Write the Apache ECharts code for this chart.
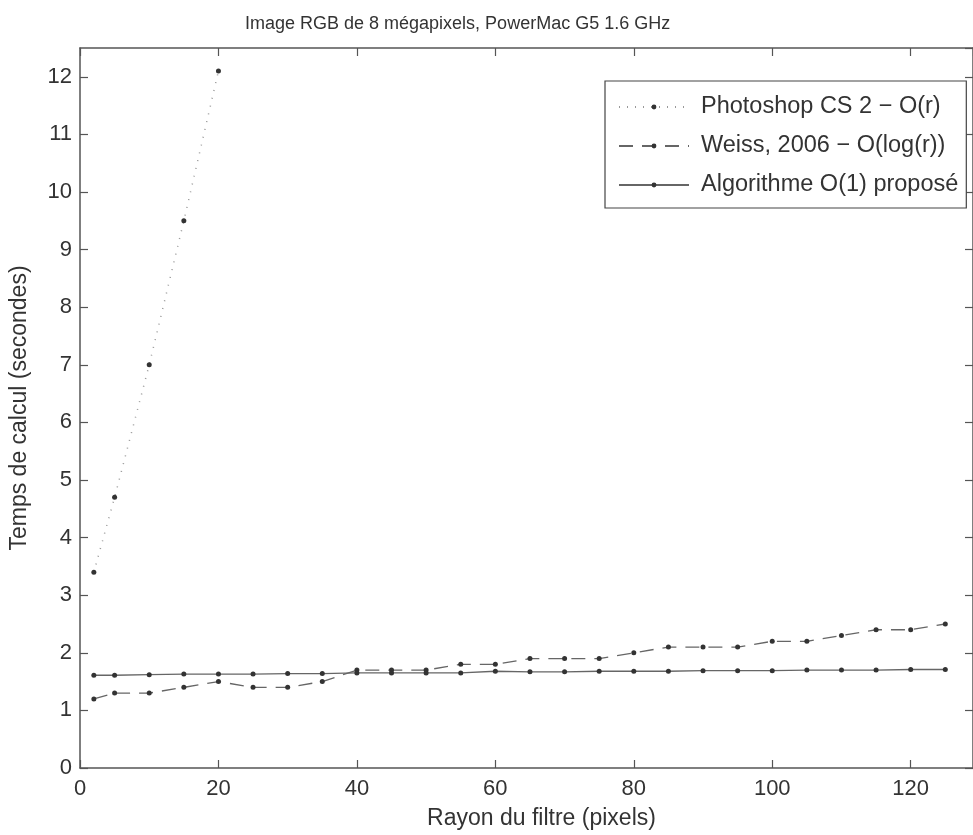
<!DOCTYPE html>
<html><head><meta charset="utf-8">
<script src="https://cdn.jsdelivr.net/npm/echarts@6/dist/echarts.min.js"></script>
<style>html,body{margin:0;padding:0;background:#fff}#c{width:973px;height:835px}</style>
</head><body><div id="c"></div>
<script>
const radiusPS = [2, 5, 10, 15, 20];
const photoshop = [3.4, 4.7, 7.0, 9.5, 12.1];
const radii = [2,5,10,15,20,25,30,35,40,45,50,55,60,65,70,75,80,85,90,95,100,105,110,115,120,125];
const weiss = [1.2,1.3,1.3,1.4,1.5,1.4,1.4,1.5,1.7,1.7,1.7,1.8,1.8,1.9,1.9,1.9,2.0,2.1,2.1,2.1,2.2,2.2,2.3,2.4,2.4,2.5];
const proposed = [1.61,1.61,1.62,1.63,1.63,1.63,1.64,1.64,1.65,1.65,1.65,1.65,1.68,1.67,1.67,1.68,1.68,1.68,1.69,1.69,1.69,1.70,1.70,1.70,1.71,1.71];
const names = ['Photoshop CS 2 \u2212 O(r)', 'Weiss, 2006 \u2212 O(log(r))', 'Algorithme O(1) propos\u00e9'];

const font = 'Liberation Sans, Arial, sans-serif';
const axisCol = '#555';
const txtCol = '#333';

const zip = (xs, ys) => xs.map((x, i) => [x, ys[i]]);

const chart = echarts.init(document.getElementById('c'));
const baseX = {
  type: 'value', min: 0, max: 129, interval: 20,
  axisLine: {show: true, onZero: false, lineStyle: {color: axisCol, width: 1.5}},
  axisTick: {show: true, inside: true, length: 8, lineStyle: {color: axisCol, width: 1.2}},
  splitLine: {show: false}
};
const baseY = {
  type: 'value', min: 0, max: 12.5, interval: 1,
  axisLine: {show: true, onZero: false, lineStyle: {color: axisCol, width: 1.5}},
  axisTick: {show: true, inside: true, length: 8, lineStyle: {color: axisCol, width: 1.2}},
  splitLine: {show: false}
};
chart.setOption({
  backgroundColor: '#fff',
  animation: false,
  textStyle: {fontFamily: font},
  title: {
    text: 'Image RGB de 8 m\u00e9gapixels, PowerMac G5 1.6 GHz',
    left: 240, top: 10,
    textStyle: {fontFamily: font, fontSize: 18, fontWeight: 'normal', color: txtCol}
  },
  grid: {left: 79, right: 0, top: 48, bottom: 65, containLabel: false},
  legend: {
    orient: 'vertical', left: 605, top: 81,
    padding: [14, 8, 11, 13],
    itemWidth: 70, itemHeight: 6, itemGap: 15,
    borderColor: '#444', borderWidth: 1.2,
    backgroundColor: '#fff',
    data: names,
    textStyle: {fontFamily: font, fontSize: 23.5, lineHeight: 24, color: txtCol, padding: [0, 0, 0, 7]}
  },
  xAxis: [
    Object.assign({}, baseX, {
      position: 'bottom',
      name: 'Rayon du filtre (pixels)', nameLocation: 'middle', nameGap: 39,
      nameTextStyle: {fontFamily: font, fontSize: 23, color: txtCol, padding: [0, 0, 0, 30]},
      axisLabel: {fontFamily: font, fontSize: 22, color: txtCol, margin: 10, showMaxLabel: false,
        formatter: v => (v % 20 === 0 ? String(v) : '')}
    }),
    Object.assign({}, baseX, {position: 'top', axisLabel: {show: false}})
  ],
  yAxis: [
    Object.assign({}, baseY, {
      position: 'left',
      name: 'Temps de calcul (secondes)', nameLocation: 'middle', nameGap: 49,
      nameTextStyle: {fontFamily: font, fontSize: 23, color: txtCol},
      axisLabel: {fontFamily: font, fontSize: 22, color: txtCol, margin: 8, showMaxLabel: false,
        formatter: v => (Number.isInteger(v) ? String(v) : '')}
    }),
    Object.assign({}, baseY, {position: 'right', axisLabel: {show: false}})
  ],
  series: [
    {
      name: names[0], type: 'line', data: zip(radiusPS, photoshop),
      symbol: 'circle', symbolSize: 5,
      itemStyle: {color: '#333'},
      lineStyle: {color: '#999', width: 1.5, type: [1, 7]}
    },
    {
      name: names[1], type: 'line', data: zip(radii, weiss),
      symbol: 'circle', symbolSize: 5,
      itemStyle: {color: '#333'},
      lineStyle: {color: '#666', width: 1.3, type: [14, 9]}
    },
    {
      name: names[2], type: 'line', data: zip(radii, proposed),
      symbol: 'circle', symbolSize: 5,
      itemStyle: {color: '#333'},
      lineStyle: {color: '#666', width: 1.3, type: 'solid'}
    }
  ]
});
</script></body></html>
